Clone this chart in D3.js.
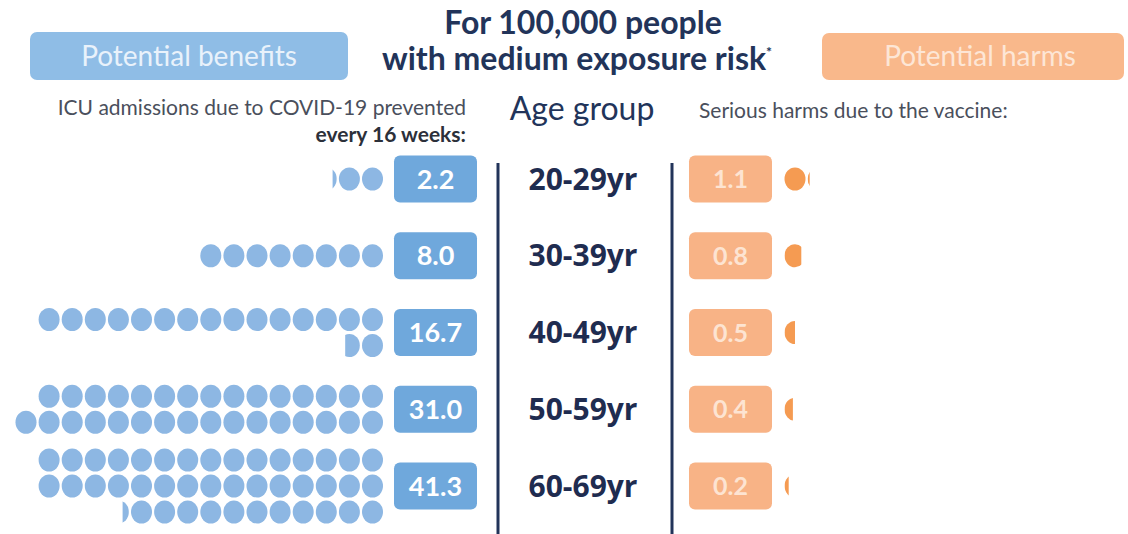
<!DOCTYPE html>
<html>
<head>
<meta charset="utf-8">
<script src="https://cdn.jsdelivr.net/npm/d3@7"></script>
<style>
  body { margin: 0; background: #ffffff; }
  svg { display: block; }
</style>
</head>
<body>
<svg width="1128" height="534"></svg>
<script>
// data
const ageGroups = ["20-29yr", "30-39yr", "40-49yr", "50-59yr", "60-69yr"];
const icuPrevented = [2.2, 8.0, 16.7, 31.0, 41.3];
const seriousHarms = [1.1, 0.8, 0.5, 0.4, 0.2];
const valueLabels = ["2.2", "8.0", "16.7", "31.0", "41.3"];
const harmLabels = ["1.1", "0.8", "0.5", "0.4", "0.2"];

var svg = d3.select("svg"),
    width = +svg.attr("width"),
    height = +svg.attr("height");

var navy = "#22345a",
    blueDot = "#8db7e3",
    blueBox = "#6fa8dc",
    orangeDot = "#f59b52",
    orangeBox = "#f8b386";

var perRow = 15,
    rowGap = 26,
    rx = 10.5, ry = 11.5;

// vertical position of each age group
var y = d3.scalePoint().domain(ageGroups).range([179, 486]);

// dot index -> x centre (benefits grow to the left, harms to the right)
var xBen = d3.scaleLinear().domain([0, 1]).range([372.5, 349.4]);
var xHarm = d3.scaleLinear().domain([0, 1]).range([795, 818.1]);

// header boxes
svg.append("rect").attr("x", 30).attr("y", 32).attr("width", 318).attr("height", 48)
  .attr("rx", 7).attr("fill", "#8fbde6");
svg.append("text").attr("x", 189).attr("y", 66).attr("text-anchor", "middle")
  .attr("font-family", "Lato").attr("font-size", 28).attr("fill", "#e9f2fb")
  .text("Potential benefits");

svg.append("rect").attr("x", 822).attr("y", 33).attr("width", 302).attr("height", 47)
  .attr("rx", 7).attr("fill", "#f9b88b");
svg.append("text").attr("x", 980).attr("y", 66).attr("text-anchor", "middle")
  .attr("font-family", "Lato").attr("font-size", 28).attr("fill", "#fde6d6")
  .text("Potential harms");

// title
var title = svg.append("text").attr("text-anchor", "middle")
  .attr("font-family", "Lato").attr("font-weight", "bold").attr("font-size", 32)
  .attr("fill", navy);
title.append("tspan").attr("x", 583).attr("y", 34).text("For 100,000 people");
title.append("tspan").attr("x", 577).attr("y", 70).text("with medium exposure risk");
title.append("tspan").attr("font-size", 14).attr("dy", -13).text("*");

// sub headings
svg.append("text").attr("x", 466).attr("y", 115).attr("text-anchor", "end")
  .attr("font-family", "Lato").attr("font-size", 21).attr("fill", "#4a4f5c")
  .text("ICU admissions due to COVID-19 prevented");
svg.append("text").attr("x", 466).attr("y", 142).attr("text-anchor", "end")
  .attr("font-family", "Lato").attr("font-weight", "bold").attr("font-size", 21).attr("fill", "#2c303a")
  .text("every 16 weeks:");
svg.append("text").attr("x", 582).attr("y", 120).attr("text-anchor", "middle")
  .attr("font-family", "Lato").attr("font-size", 32).attr("fill", navy)
  .text("Age group");
svg.append("text").attr("x", 699).attr("y", 118)
  .attr("font-family", "Lato").attr("font-size", 21).attr("fill", "#4a4f5c")
  .text("Serious harms due to the vaccine:");

// divider lines
[498, 672].forEach(function(x) {
  svg.append("line").attr("x1", x).attr("x2", x).attr("y1", 163).attr("y2", height)
    .attr("stroke", navy).attr("stroke-width", 3);
});

// age labels
svg.selectAll(".age").data(ageGroups).enter().append("text")
  .attr("class", "age")
  .attr("x", 583).attr("y", function(d) { return y(d); })
  .attr("dy", "0.35em").attr("text-anchor", "middle")
  .attr("font-family", "Open Sans").attr("font-weight", "bold").attr("font-size", 30)
  .attr("fill", "#1f2c50")
  .text(function(d) { return d; });

// turn a value into dots: 15 per row, a lone leftover dot joins the row above
function layoutDots(v) {
  var full = Math.floor(v + 1e-9), frac = +(v - full).toFixed(3);
  var dots = [];
  for (var i = 0; i < full; i++) dots.push({ row: Math.floor(i / perRow), col: i % perRow, f: 1 });
  if (frac > 0) dots.push({ row: Math.floor(full / perRow), col: full % perRow, f: frac });
  if (frac === 0 && full > perRow && full % perRow === 1) {
    var last = dots[dots.length - 1];
    last.row -= 1; last.col = perRow;
  }
  var nRows = d3.max(dots, function(d) { return d.row; }) + 1;
  dots.forEach(function(d) { d.nRows = nRows; });
  return dots;
}

var defs = svg.append("defs");
var clipId = 0;

function drawDot(g, cx, cy, f, color, keepRight) {
  var e = g.append("ellipse").attr("cx", cx).attr("cy", cy)
    .attr("rx", rx).attr("ry", ry).attr("fill", color);
  if (f < 1) {
    var id = "clip" + (clipId++);
    var w = 2 * rx * f;
    defs.append("clipPath").attr("id", id).append("rect")
      .attr("x", keepRight ? cx + rx - w : cx - rx).attr("y", cy - ry - 1)
      .attr("width", w).attr("height", 2 * ry + 2);
    e.attr("clip-path", "url(#" + id + ")");
  }
}

// benefits: dots and value boxes
ageGroups.forEach(function(age, i) {
  var g = svg.append("g");
  var cy = y(age);
  layoutDots(icuPrevented[i]).forEach(function(d) {
    var dy = (d.row - (d.nRows - 1) / 2) * rowGap;
    drawDot(g, xBen(d.col), cy + dy, d.f, blueDot, true);
  });
  g.append("rect").attr("x", 394).attr("y", cy - 23.5).attr("width", 83).attr("height", 47)
    .attr("rx", 6).attr("fill", blueBox);
  g.append("text").attr("x", 435.5).attr("y", cy).attr("dy", "0.36em")
    .attr("text-anchor", "middle").attr("font-family", "Lato").attr("font-weight", "bold")
    .attr("font-size", 27).attr("fill", "#ffffff")
    .text(valueLabels[i]);
});

// harms: value boxes and dots
ageGroups.forEach(function(age, i) {
  var g = svg.append("g");
  var cy = y(age);
  g.append("rect").attr("x", 689).attr("y", cy - 23.5).attr("width", 83).attr("height", 47)
    .attr("rx", 6).attr("fill", orangeBox);
  g.append("text").attr("x", 730.5).attr("y", cy).attr("dy", "0.36em")
    .attr("text-anchor", "middle").attr("font-family", "Lato").attr("font-weight", "bold")
    .attr("font-size", 25).attr("fill", "#fde4d2")
    .text(harmLabels[i]);
  layoutDots(seriousHarms[i]).forEach(function(d) {
    drawDot(g, xHarm(d.col), cy, d.f, orangeDot, false);
  });
});
</script>
</body>
</html>
